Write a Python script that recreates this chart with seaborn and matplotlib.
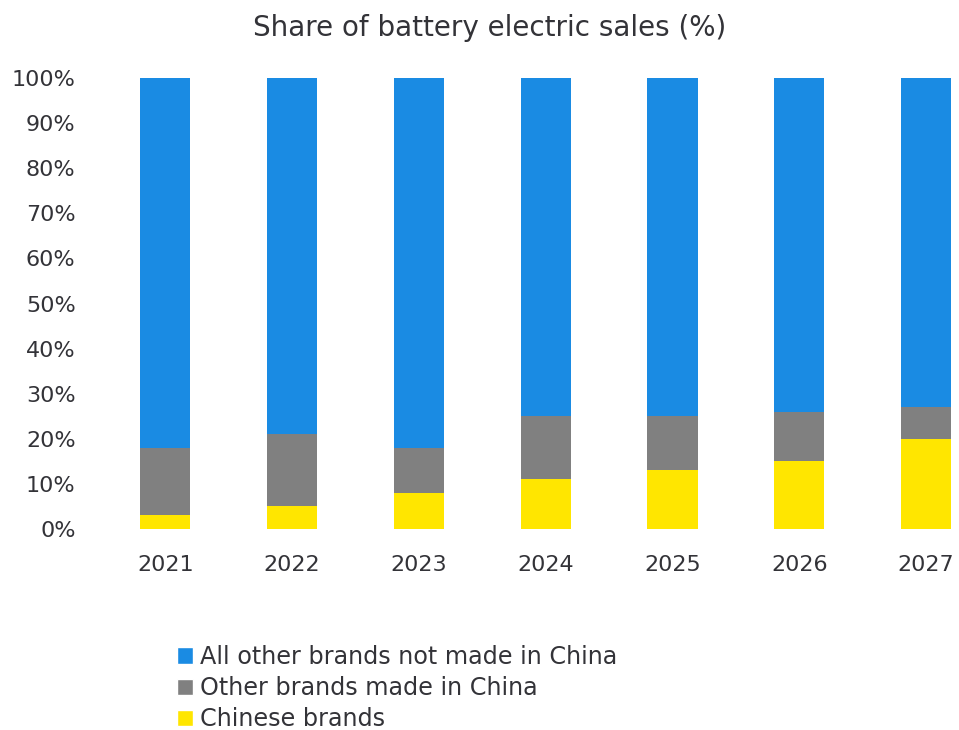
import matplotlib
matplotlib.use("Agg")
import matplotlib.pyplot as plt
import seaborn as sns
import pandas as pd
from matplotlib.patches import Patch

years = ["2021", "2022", "2023", "2024", "2025", "2026", "2027"]
chinese_brands = [3, 5, 8, 11, 13, 15, 20]
other_made_in_china = [15, 16, 10, 14, 12, 11, 7]
not_made_in_china = [82, 79, 82, 75, 75, 74, 73]
series_labels = ["All other brands not made in China", "Other brands made in China", "Chinese brands"]
y_ticks = [0, 10, 20, 30, 40, 50, 60, 70, 80, 90, 100]

colors = {"blue": "#1A8BE3", "gray": "#808080", "yellow": "#FFE600"}
text_color = "#333338"

sns.set_theme(style="white")
plt.rcParams["font.family"] = ["DejaVu Sans"]

df = pd.DataFrame({
    "year": years,
    "chinese": chinese_brands,
    "other_china": other_made_in_china,
    "not_china": not_made_in_china,
})
df["top_yellow"] = df["chinese"]
df["top_gray"] = df["chinese"] + df["other_china"]
df["top_blue"] = df["top_gray"] + df["not_china"]

fig = plt.figure(figsize=(9.59, 7.30), dpi=100)
ax = fig.add_axes([102 / 959, 1 - 529 / 730, (959 - 102) / 959, (529 - 78) / 730])

bw = 0.395
sns.barplot(data=df, x="year", y="top_blue", color=colors["blue"], width=bw, ax=ax,
            saturation=1, edgecolor="none", linewidth=0)
sns.barplot(data=df, x="year", y="top_gray", color=colors["gray"], width=bw, ax=ax,
            saturation=1, edgecolor="none", linewidth=0)
sns.barplot(data=df, x="year", y="top_yellow", color=colors["yellow"], width=bw, ax=ax,
            saturation=1, edgecolor="none", linewidth=0)

ax.set_ylim(0, 100)
ax.set_xlim(-0.5, 6.26)
ax.set_yticks(y_ticks)
ax.set_yticklabels([f"{t}%" for t in y_ticks])
ax.set_xlabel("")
ax.set_ylabel("")
for s in ax.spines.values():
    s.set_visible(False)
ax.tick_params(axis="y", length=0, pad=19, labelsize=16, labelcolor=text_color)
ax.tick_params(axis="x", length=0, pad=19, labelsize=16, labelcolor=text_color)

fig.text(490 / 959, 1 - 28 / 730, "Share of battery electric sales (%)", ha="center", va="center",
         fontsize=20, color=text_color)

handles = [Patch(facecolor=colors["blue"]), Patch(facecolor=colors["gray"]), Patch(facecolor=colors["yellow"])]
leg = fig.legend(handles, series_labels, loc="upper left", bbox_to_anchor=(177 / 959, 1 - 645 / 730),
                 frameon=False, fontsize=17.2, handlelength=0.68, handleheight=0.68,
                 handletextpad=0.3, labelspacing=0.3, borderpad=0, borderaxespad=0)
for t in leg.get_texts():
    t.set_color(text_color)

fig.savefig("out.png", dpi=100)
